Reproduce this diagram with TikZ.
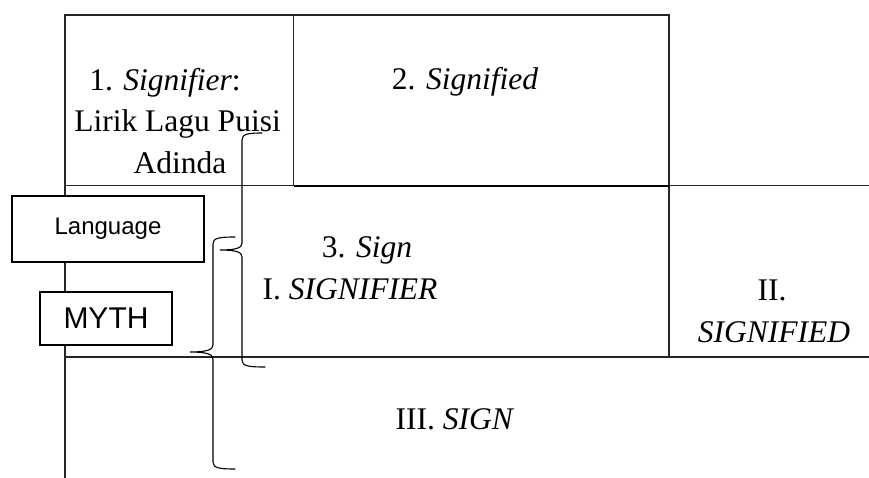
\documentclass[tikz,border=0pt]{standalone}
\usepackage{fontspec}
\setmainfont{Liberation Serif}
\setsansfont{Liberation Sans}
\usetikzlibrary{positioning}
\tikzstyle{Rule} = [line width=1.2pt, black!85]
\tikzstyle{Brace} = [line width=1.1pt, black, line cap=round]

\begin{document}
\begin{tikzpicture}[x=1pt, y=-1pt,
txt/.style={anchor=base, inner sep=0pt,
	font=\fontsize{31.5}{41.5}\selectfont
	},
box/.style={draw, line width=1.8pt, fill=white, 
	font=\sffamily, inner sep=0pt
	}
]
 \useasboundingbox (0,0) rectangle (869,478);

 % table lines
 \draw[Rule] (65,478) -- (65,15) -- (669,15) -- (669,357);
 \draw[Rule] (293.5,15) -- (293.5,185.5);
 \draw[Rule] (65,185.5) -- (869,185.5);
 \draw[Rule] (65,357) -- (869,357);
 \draw[line width=2pt] (294,186) -- (669,186);

 % texts
 \node[txt] (1a) at (165,91) {1. \textit{Signifier}:};
 \node[txt] (1b) at (177.5,132) {Lirik Lagu Puisi};
 \node[txt] (1c) at (180,174) {Adinda};
 \node[txt] (2) at (465,90) {2. \textit{Signified}};
 \node[txt] (3) at (367,258) {3. \textit{Sign}};
 \node[txt] (I) at (350,299) {I. \textit{SIGNIFIER}};
 \node[txt] (IIa) at (772,300) {II.};
 \node[txt] (IIb) at (774,342) {\textit{SIGNIFIED}};
 \node[txt] (III) at (455,429) {III. \textit{SIGN}};

 % braces
 \draw[Brace] (262,133) .. controls (248,133) and (242,134) .. (242,140)
  -- (242,243) .. controls (242,248) and (236,250) .. (220,250)
  .. controls (236,250) and (242,252) .. (242,257)
  -- (242,360) .. controls (242,366) and (248,367) .. (265,367);
 \draw[Brace] (235,237) .. controls (219,237) and (213,238) .. (213,244)
  -- (213,345) .. controls (213,350) and (206,352) .. (190,352)
  .. controls (206,352) and (213,354) .. (213,359)
  -- (213,462) .. controls (213,468) and (219,469) .. (235,469);

 % boxes
 \node[box, minimum width=192pt, minimum height=66pt, 
 	font=\sffamily\fontsize{24}{28}\selectfont] (lang) at (108,229) {Language};
 \node[box, minimum width=132pt, minimum height=53pt, 
 	font=\sffamily\fontsize{30}{34}\selectfont] (myth) at (106,318.5) {MYTH};

\end{tikzpicture}
\end{document}
